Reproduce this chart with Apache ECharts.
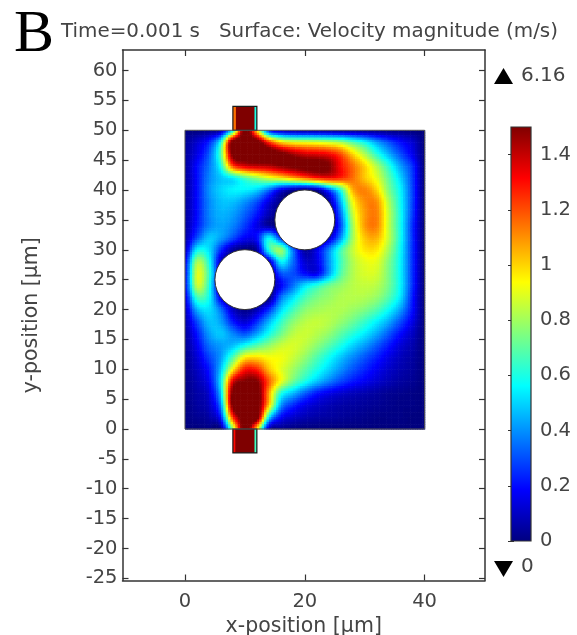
<!DOCTYPE html>
<html><head><meta charset="utf-8">
<style>html,body{margin:0;padding:0;background:#fff}#c{width:577px;height:635px}</style>
<script src="https://cdn.jsdelivr.net/npm/echarts@6/dist/echarts.min.js"></script>
</head><body><div id="c"></div>
<script>
const xNodes=[0,2,4,6,8,10,12,14,16,18,20,22,24,26,28,30,32,34,36,38,40];
const yNodes=[50,48,46,44,42,40,38,36,34,32,30,28,26,24,22,20,18,16,14,12,10,8,6,4,2,0];
const speedRows=[
[0,0,.02,.08,.6,1.6,1,.25,.1,.06,.05,.05,.04,.03,.03,.02,.02,.01,.01,0,0],
[.04,.12,.24,.6,1.6,1.6,1.6,1.25,1,.92,.9,.88,.85,.8,.68,.57,.42,.3,.2,.12,0],
[.05,.15,.32,.7,1.55,1.6,1.6,1.6,1.55,1.45,1.38,1.36,1.32,1.2,1,.82,.62,.45,.3,.16,0],
[.05,.2,.36,.6,1.2,1.36,1.4,1.42,1.48,1.52,1.55,1.55,1.5,1.3,1.15,1,.82,.62,.42,.25,0],
[.05,.2,.38,.48,.55,.68,.78,.88,.95,1.05,1.15,1.25,1.3,1.25,1.15,1.02,.9,.7,.5,.27,0],
[.05,.2,.4,.5,.55,.55,.5,.35,.15,.05,0,.05,.3,.62,1.05,1.12,1,.75,.55,.28,0],
[.05,.2,.38,.47,.47,.4,.3,.14,.02,0,0,0,.05,.45,.92,1.1,1.1,.82,.57,.28,0],
[.05,.2,.38,.45,.42,.33,.22,.08,0,0,0,0,0,.35,.85,1.08,1.12,.85,.58,.27,0],
[.05,.22,.38,.43,.38,.27,.15,.05,0,0,0,0,0,.3,.8,1.08,1.12,.85,.58,.25,0],
[.06,.3,.48,.42,.3,.18,.2,.55,.25,0,0,.02,.1,.4,.8,1.02,1.05,.85,.58,.25,0],
[.1,.55,.52,.25,.05,0,.05,.6,.78,.35,.05,.15,.38,.65,.85,.97,.97,.8,.56,.25,0],
[.18,.8,.6,.1,0,0,0,.1,.55,.35,.12,.15,.4,.65,.82,.9,.9,.75,.55,.25,0],
[.2,.88,.65,.1,0,0,0,0,.3,.3,.2,.17,.42,.68,.82,.88,.87,.74,.55,.25,0],
[.2,.85,.62,.05,0,0,0,0,.18,.35,.52,.62,.72,.78,.83,.85,.83,.73,.55,.25,0],
[.15,.65,.58,.15,0,0,0,0,.35,.52,.66,.74,.78,.82,.83,.82,.78,.68,.52,.22,0],
[.1,.45,.52,.35,.1,.02,.08,.25,.5,.65,.76,.8,.82,.82,.79,.75,.68,.57,.42,.2,0],
[.07,.3,.47,.42,.22,.12,.25,.45,.63,.76,.83,.85,.83,.78,.72,.64,.55,.44,.3,.15,0],
[.05,.22,.42,.48,.38,.3,.42,.58,.72,.83,.86,.83,.78,.7,.62,.54,.44,.32,.2,.1,0],
[.04,.17,.35,.42,.47,.58,.68,.77,.85,.88,.84,.77,.69,.6,.5,.42,.32,.22,.13,.07,0],
[.03,.13,.28,.42,.68,.95,.98,.93,.92,.86,.78,.68,.58,.48,.39,.31,.23,.15,.09,.05,0],
[.03,.1,.22,.48,.95,1.28,1.26,1.03,.9,.8,.7,.6,.5,.4,.31,.24,.17,.11,.07,.04,0],
[.02,.08,.18,.55,1.35,1.5,1.5,1.18,.92,.73,.6,.48,.38,.29,.22,.17,.12,.08,.05,.03,0],
[.02,.06,.13,.5,1.55,1.6,1.6,1.08,.62,.47,.33,.22,.16,.12,.09,.07,.05,.03,.02,.01,0],
[.01,.05,.1,.4,1.55,1.6,1.6,1.02,.42,.25,.16,.11,.08,.06,.05,.04,.03,.02,.01,.01,0],
[.01,.03,.06,.25,1.25,1.6,1.6,.56,.2,.12,.08,.06,.05,.04,.03,.02,.01,.01,.01,0,0],
[0,0,.01,.03,.8,1.6,1,.1,.03,.01,0,0,0,0,0,0,0,0,0,0,0]
];
const inletCells=[
[8,12,50,54,1.6],[8,8.5,50,54,1.15],[11.6,12,50,54,.6],
[8,12,-4,0,1.6],[8,8.4,-4,0,1.3],[11.6,12,-4,0,.65]
];
const inletBoxes=[[8,12,50,54],[8,12,-4,0]];
const pillars=[[20,35,5],[10,25,5]];
const xTicks=[0,20,40];
const yTicks=[-25,-20,-15,-10,-5,0,5,10,15,20,25,30,35,40,45,50,55,60];
const barTicks=[0,0.2,0.4,0.6,0.8,1,1.2,1.4];
const barRange=[0,1.5];
const titleText='Time=0.001 s   Surface: Velocity magnitude (m/s)';
const maxLabel='6.16', minLabel='0';

const jet=['#00007f','#0000ff','#007fff','#00ffff','#7fff7f','#ffff00','#ff7f00','#ff0000','#7f0000'];
const lut=[];for(let i=0;i<=255;i++)lut.push(echarts.color.lerp(i/255,jet));
const colorOf=v=>lut[Math.max(0,Math.min(255,Math.round(v/1.5*255)))];
const SUB=5;
const nR=yNodes.length,nC=xNodes.length;
const node=(r,c)=>speedRows[Math.max(0,Math.min(nR-1,r))][Math.max(0,Math.min(nC-1,c))];
const spline=(a,b,c,d,t)=>.5*(2*b+(c-a)*t+(2*a-5*b+4*c-d)*t*t+(3*b-a-3*c+d)*t*t*t);
function shade(r,c,w,u){
  const row=k=>spline(node(r+k,c-1),node(r+k,c),node(r+k,c+1),node(r+k,c+2),u);
  return spline(row(-1),row(0),row(1),row(2),w);
}
const cells=[];
for(let r=0;r<nR-1;r++)for(let c=0;c<nC-1;c++)cells.push([xNodes[c],yNodes[r+1],xNodes[c+1],yNodes[r],r,c]);
const INK='#444',AX='#333',FONT='"DejaVu Sans"',FS=19.5;
const chart=echarts.init(document.getElementById('c'),null,{renderer:'canvas',width:577,height:635});
const axisCommon={axisLine:{show:true,onZero:false,lineStyle:{color:AX,width:1.5}},splitLine:{show:false},
  axisTick:{show:true,inside:true,length:6,lineStyle:{color:AX,width:1.2}}};
const labelStyle={color:INK,fontFamily:FONT,fontSize:FS};
const nameStyle={color:INK,fontFamily:FONT,fontSize:20.5};
const Y0=-25.36,Y1=63.44;
chart.setOption({
 animation:false,backgroundColor:'#fff',
 title:[{text:titleText,left:56,top:17,textStyle:{color:INK,fontFamily:FONT,fontSize:19.9,fontWeight:'normal'}},
        {text:'B',left:9,top:0,textStyle:{color:'#000',fontFamily:'"Liberation Serif"',fontSize:60,fontWeight:'normal'}}],
 grid:[{left:122.5,top:50,width:362.5,height:530.5,outerBoundsMode:'none'},{left:511,top:127,width:20,height:414,outerBoundsMode:'none'}],
 xAxis:[
  Object.assign({},axisCommon,{type:'value',gridIndex:0,position:'bottom',min:-10.43,max:50.08,
    axisTick:Object.assign({},axisCommon.axisTick,{customValues:xTicks}),
    axisLabel:{customValues:xTicks,margin:11,...labelStyle},
    name:'x-position [µm]',nameLocation:'middle',nameGap:30,nameTextStyle:nameStyle}),
  Object.assign({},axisCommon,{type:'value',gridIndex:0,position:'top',min:-10.43,max:50.08,
    axisTick:Object.assign({},axisCommon.axisTick,{customValues:xTicks}),axisLabel:{show:false}}),
  {type:'value',gridIndex:1,min:0,max:1,show:false}
 ],
 yAxis:[
  Object.assign({},axisCommon,{type:'value',gridIndex:0,position:'left',min:Y0,max:Y1,
    axisTick:Object.assign({},axisCommon.axisTick,{customValues:yTicks}),
    axisLabel:{customValues:yTicks,margin:5,...labelStyle},
    name:'y-position [µm]',nameLocation:'middle',nameGap:80,nameRotate:90,nameTextStyle:nameStyle}),
  Object.assign({},axisCommon,{type:'value',gridIndex:0,position:'right',min:Y0,max:Y1,
    axisTick:Object.assign({},axisCommon.axisTick,{customValues:yTicks}),axisLabel:{show:false}}),
  {type:'value',gridIndex:1,position:'right',min:barRange[0],max:barRange[1],
    axisLine:{show:false},splitLine:{show:false},
    axisTick:{show:true,inside:true,length:3,customValues:barTicks,lineStyle:{color:AX}},
    axisLabel:{customValues:barTicks,margin:9,formatter:v=>String(+v.toFixed(1)),...labelStyle}},
  {type:'value',gridIndex:1,position:'left',min:barRange[0],max:barRange[1],
    axisLine:{show:false},splitLine:{show:false},
    axisTick:{show:true,inside:true,length:3,customValues:barTicks,lineStyle:{color:AX}},axisLabel:{show:false}}
 ],
 series:[
  {type:'custom',name:'Velocity magnitude',coordinateSystem:'cartesian2d',xAxisIndex:0,yAxisIndex:0,silent:true,z:2,
   encode:{x:[0,2],y:[1,3]},data:cells,
   renderItem(p,api){
    const x0=api.value(0),y0=api.value(1),x1=api.value(2),y1=api.value(3),r=api.value(4),c=api.value(5);
    const kids=[];
    for(let i=0;i<SUB;i++)for(let j=0;j<SUB;j++){
      const v=shade(r,c,(j+.5)/SUB,(i+.5)/SUB);
      const p0=api.coord([x0+(x1-x0)*i/SUB,y1-(y1-y0)*j/SUB]);
      const p1=api.coord([x0+(x1-x0)*(i+1)/SUB,y1-(y1-y0)*(j+1)/SUB]);
      kids.push({type:'rect',shape:{x:p0[0],y:p0[1],width:p1[0]-p0[0]+.6,height:p1[1]-p0[1]+.6},style:{fill:colorOf(v)}});
    }
    return {type:'group',children:kids};
   }},
  {type:'custom',name:'Inlets',coordinateSystem:'cartesian2d',xAxisIndex:0,yAxisIndex:0,silent:true,z:3,
   encode:{x:[0,1],y:[2,3]},data:inletCells,
   renderItem(p,api){
    const a=api.coord([api.value(0),api.value(3)]),b=api.coord([api.value(1),api.value(2)]);
    return {type:'rect',shape:{x:a[0],y:a[1],width:b[0]-a[0],height:b[1]-a[1]},style:{fill:colorOf(api.value(4))}};
   }},
  {type:'custom',name:'Outlines',coordinateSystem:'cartesian2d',xAxisIndex:0,yAxisIndex:0,silent:true,z:4,
   encode:{x:[0,1],y:[2,3]},data:inletBoxes.concat([[0,40,0,50]]),
   renderItem(p,api){
    const a=api.coord([api.value(0),api.value(3)]),b=api.coord([api.value(1),api.value(2)]);
    const main=api.value(1)===40;
    return {type:'rect',shape:{x:a[0],y:a[1],width:b[0]-a[0],height:b[1]-a[1]},style:{fill:'none',stroke:main?'#555':'#1a1a1a',lineWidth:main?1:1.2}};
   }},
  {type:'custom',name:'Pillars',coordinateSystem:'cartesian2d',xAxisIndex:0,yAxisIndex:0,silent:true,z:5,
   encode:{x:0,y:1},data:pillars,
   renderItem(p,api){
    const c=api.coord([api.value(0),api.value(1)]),s=api.size([api.value(2),api.value(2)]);
    return {type:'circle',shape:{cx:c[0],cy:c[1],r:s[0]},style:{fill:'#fff',stroke:'#333',lineWidth:1}};
   }},
  {type:'custom',name:'Colour bar',coordinateSystem:'cartesian2d',xAxisIndex:2,yAxisIndex:2,silent:true,z:1,clip:false,
   encode:{x:0,y:1},data:[[0,barRange[0]],[1,barRange[1]]],
   renderItem(p,api){
    if(p.dataIndex!==0)return;
    const a=api.coord([0,barRange[1]]),b=api.coord([1,barRange[0]]);
    return {type:'rect',shape:{x:a[0],y:a[1],width:b[0]-a[0],height:b[1]-a[1]},
      style:{stroke:AX,lineWidth:1.2,fill:new echarts.graphic.LinearGradient(0,1,0,0,jet.map((color,i)=>({offset:i/(jet.length-1),color})))}};
   }}
 ],
 graphic:[
  {type:'polygon',shape:{points:[[494,84],[513,84],[503.5,68]]},style:{fill:'#000'}},
  {type:'polygon',shape:{points:[[494,561],[513,561],[503.5,577]]},style:{fill:'#000'}},
  {type:'text',left:521,top:66,style:{text:maxLabel,fill:INK,font:'20px '+FONT}},
  {type:'text',left:521,top:557,style:{text:minLabel,fill:INK,font:'20px '+FONT}}
 ]
});
</script></body></html>
